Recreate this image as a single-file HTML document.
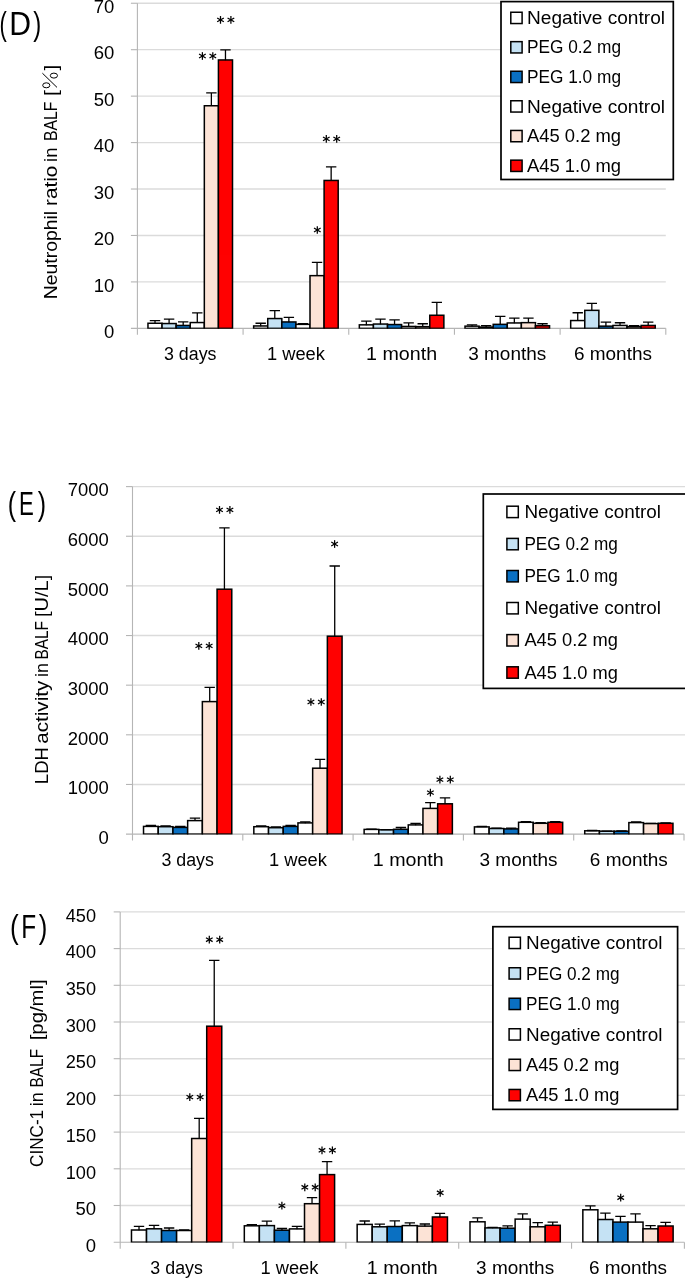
<!DOCTYPE html>
<html><head><meta charset="utf-8"><title>Figure D-F</title>
<style>
html,body{margin:0;padding:0;background:#fff;}
svg{display:block;font-family:"Liberation Sans",sans-serif;fill:#000;will-change:transform;opacity:0.999;}
</style></head><body>
<svg width="685" height="1278" viewBox="0 0 685 1278">
<rect width="685" height="1278" fill="#fff"/>
<line x1="137.4" y1="3.25" x2="665.8" y2="3.25" stroke="#DBDBDB" stroke-width="1.35"/>
<line x1="137.4" y1="49.69" x2="665.8" y2="49.69" stroke="#DBDBDB" stroke-width="1.35"/>
<line x1="137.4" y1="96.14" x2="665.8" y2="96.14" stroke="#DBDBDB" stroke-width="1.35"/>
<line x1="137.4" y1="142.58" x2="665.8" y2="142.58" stroke="#DBDBDB" stroke-width="1.35"/>
<line x1="137.4" y1="189.02" x2="665.8" y2="189.02" stroke="#DBDBDB" stroke-width="1.35"/>
<line x1="137.4" y1="235.46" x2="665.8" y2="235.46" stroke="#DBDBDB" stroke-width="1.35"/>
<line x1="137.4" y1="281.91" x2="665.8" y2="281.91" stroke="#DBDBDB" stroke-width="1.35"/>
<line x1="137.4" y1="3.25" x2="137.4" y2="334.85" stroke="#B5B5B5" stroke-width="1.1"/>
<line x1="130.9" y1="328.35" x2="665.8" y2="328.35" stroke="#B5B5B5" stroke-width="1.1"/>
<line x1="130.9" y1="3.25" x2="137.4" y2="3.25" stroke="#B5B5B5" stroke-width="1.1"/>
<line x1="130.9" y1="49.69" x2="137.4" y2="49.69" stroke="#B5B5B5" stroke-width="1.1"/>
<line x1="130.9" y1="96.14" x2="137.4" y2="96.14" stroke="#B5B5B5" stroke-width="1.1"/>
<line x1="130.9" y1="142.58" x2="137.4" y2="142.58" stroke="#B5B5B5" stroke-width="1.1"/>
<line x1="130.9" y1="189.02" x2="137.4" y2="189.02" stroke="#B5B5B5" stroke-width="1.1"/>
<line x1="130.9" y1="235.46" x2="137.4" y2="235.46" stroke="#B5B5B5" stroke-width="1.1"/>
<line x1="130.9" y1="281.91" x2="137.4" y2="281.91" stroke="#B5B5B5" stroke-width="1.1"/>
<line x1="243.08" y1="328.35" x2="243.08" y2="334.85" stroke="#B5B5B5" stroke-width="1.1"/>
<line x1="348.76" y1="328.35" x2="348.76" y2="334.85" stroke="#B5B5B5" stroke-width="1.1"/>
<line x1="454.44" y1="328.35" x2="454.44" y2="334.85" stroke="#B5B5B5" stroke-width="1.1"/>
<line x1="560.12" y1="328.35" x2="560.12" y2="334.85" stroke="#B5B5B5" stroke-width="1.1"/>
<line x1="665.80" y1="328.35" x2="665.80" y2="334.85" stroke="#B5B5B5" stroke-width="1.1"/>
<clipPath id="c328"><rect x="135.4" y="-5" width="538.4" height="333.65"/></clipPath>
<g clip-path="url(#c328)">
<rect x="147.97" y="323.25" width="14.09" height="5.10" fill="#FFFFFF" stroke="#000" stroke-width="1.5"/>
<rect x="162.06" y="323.55" width="14.09" height="4.80" fill="#C5E2F4" stroke="#000" stroke-width="1.5"/>
<rect x="176.15" y="325.45" width="14.09" height="2.90" fill="#0A70C2" stroke="#000" stroke-width="1.5"/>
<rect x="190.24" y="322.55" width="14.09" height="5.80" fill="#FFFFFF" stroke="#000" stroke-width="1.5"/>
<rect x="204.33" y="105.75" width="14.09" height="222.60" fill="#FCE3D6" stroke="#000" stroke-width="1.5"/>
<rect x="218.42" y="59.95" width="14.09" height="268.40" fill="#FF0000" stroke="#000" stroke-width="1.5"/>
<path d="M155.01 323.55V320.65M149.81 320.65H160.21" stroke="#000" stroke-width="1.3" fill="none"/>
<path d="M169.10 323.85V319.05M163.90 319.05H174.30" stroke="#000" stroke-width="1.3" fill="none"/>
<path d="M183.19 325.75V321.95M177.99 321.95H188.39" stroke="#000" stroke-width="1.3" fill="none"/>
<path d="M197.29 322.85V312.95M192.09 312.95H202.49" stroke="#000" stroke-width="1.3" fill="none"/>
<path d="M211.38 106.05V92.85M206.18 92.85H216.58" stroke="#000" stroke-width="1.3" fill="none"/>
<path d="M225.47 60.25V49.95M220.27 49.95H230.67" stroke="#000" stroke-width="1.3" fill="none"/>
<rect x="253.65" y="325.95" width="14.09" height="2.40" fill="#FFFFFF" stroke="#000" stroke-width="1.5"/>
<rect x="267.74" y="318.55" width="14.09" height="9.80" fill="#C5E2F4" stroke="#000" stroke-width="1.5"/>
<rect x="281.83" y="321.95" width="14.09" height="6.40" fill="#0A70C2" stroke="#000" stroke-width="1.5"/>
<rect x="295.92" y="324.35" width="14.09" height="4.00" fill="#FFFFFF" stroke="#000" stroke-width="1.5"/>
<rect x="310.01" y="275.65" width="14.09" height="52.70" fill="#FCE3D6" stroke="#000" stroke-width="1.5"/>
<rect x="324.10" y="180.45" width="14.09" height="147.90" fill="#FF0000" stroke="#000" stroke-width="1.5"/>
<path d="M260.69 326.25V323.25M255.49 323.25H265.89" stroke="#000" stroke-width="1.3" fill="none"/>
<path d="M274.78 318.85V310.65M269.58 310.65H279.98" stroke="#000" stroke-width="1.3" fill="none"/>
<path d="M288.87 322.25V317.35M283.67 317.35H294.07" stroke="#000" stroke-width="1.3" fill="none"/>
<path d="M302.97 324.65V323.65M297.77 323.65H308.17" stroke="#000" stroke-width="1.3" fill="none"/>
<path d="M317.06 275.95V262.45M311.86 262.45H322.26" stroke="#000" stroke-width="1.3" fill="none"/>
<path d="M331.15 180.75V166.95M325.95 166.95H336.35" stroke="#000" stroke-width="1.3" fill="none"/>
<rect x="359.33" y="324.85" width="14.09" height="3.50" fill="#FFFFFF" stroke="#000" stroke-width="1.5"/>
<rect x="373.42" y="324.05" width="14.09" height="4.30" fill="#C5E2F4" stroke="#000" stroke-width="1.5"/>
<rect x="387.51" y="324.55" width="14.09" height="3.80" fill="#0A70C2" stroke="#000" stroke-width="1.5"/>
<rect x="401.60" y="326.45" width="14.09" height="1.90" fill="#FFFFFF" stroke="#000" stroke-width="1.5"/>
<rect x="415.69" y="326.65" width="14.09" height="1.70" fill="#FCE3D6" stroke="#000" stroke-width="1.5"/>
<rect x="429.78" y="315.25" width="14.09" height="13.10" fill="#FF0000" stroke="#000" stroke-width="1.5"/>
<path d="M366.37 325.15V321.15M361.17 321.15H371.57" stroke="#000" stroke-width="1.3" fill="none"/>
<path d="M380.46 324.35V319.05M375.26 319.05H385.66" stroke="#000" stroke-width="1.3" fill="none"/>
<path d="M394.55 324.85V319.95M389.35 319.95H399.75" stroke="#000" stroke-width="1.3" fill="none"/>
<path d="M408.65 326.75V322.95M403.45 322.95H413.85" stroke="#000" stroke-width="1.3" fill="none"/>
<path d="M422.74 326.95V323.75M417.54 323.75H427.94" stroke="#000" stroke-width="1.3" fill="none"/>
<path d="M436.83 315.55V302.45M431.63 302.45H442.03" stroke="#000" stroke-width="1.3" fill="none"/>
<rect x="465.01" y="326.15" width="14.09" height="2.20" fill="#FFFFFF" stroke="#000" stroke-width="1.5"/>
<rect x="479.10" y="327.05" width="14.09" height="1.30" fill="#C5E2F4" stroke="#000" stroke-width="1.5"/>
<rect x="493.19" y="324.35" width="14.09" height="4.00" fill="#0A70C2" stroke="#000" stroke-width="1.5"/>
<rect x="507.28" y="322.95" width="14.09" height="5.40" fill="#FFFFFF" stroke="#000" stroke-width="1.5"/>
<rect x="521.37" y="322.65" width="14.09" height="5.70" fill="#FCE3D6" stroke="#000" stroke-width="1.5"/>
<rect x="535.46" y="325.75" width="14.09" height="2.60" fill="#FF0000" stroke="#000" stroke-width="1.5"/>
<path d="M472.05 326.45V324.85M466.85 324.85H477.25" stroke="#000" stroke-width="1.3" fill="none"/>
<path d="M486.14 327.35V325.55M480.94 325.55H491.34" stroke="#000" stroke-width="1.3" fill="none"/>
<path d="M500.23 324.65V316.45M495.03 316.45H505.43" stroke="#000" stroke-width="1.3" fill="none"/>
<path d="M514.33 323.25V318.05M509.13 318.05H519.53" stroke="#000" stroke-width="1.3" fill="none"/>
<path d="M528.42 322.95V318.15M523.22 318.15H533.62" stroke="#000" stroke-width="1.3" fill="none"/>
<path d="M542.51 326.05V323.75M537.31 323.75H547.71" stroke="#000" stroke-width="1.3" fill="none"/>
<rect x="570.69" y="320.55" width="14.09" height="7.80" fill="#FFFFFF" stroke="#000" stroke-width="1.5"/>
<rect x="584.78" y="310.35" width="14.09" height="18.00" fill="#C5E2F4" stroke="#000" stroke-width="1.5"/>
<rect x="598.87" y="326.15" width="14.09" height="2.20" fill="#0A70C2" stroke="#000" stroke-width="1.5"/>
<rect x="612.96" y="325.45" width="14.09" height="2.90" fill="#FFFFFF" stroke="#000" stroke-width="1.5"/>
<rect x="627.05" y="326.65" width="14.09" height="1.70" fill="#FCE3D6" stroke="#000" stroke-width="1.5"/>
<rect x="641.14" y="325.45" width="14.09" height="2.90" fill="#FF0000" stroke="#000" stroke-width="1.5"/>
<path d="M577.73 320.85V312.75M572.53 312.75H582.93" stroke="#000" stroke-width="1.3" fill="none"/>
<path d="M591.82 310.65V303.35M586.62 303.35H597.02" stroke="#000" stroke-width="1.3" fill="none"/>
<path d="M605.91 326.45V322.05M600.71 322.05H611.11" stroke="#000" stroke-width="1.3" fill="none"/>
<path d="M620.01 325.75V322.75M614.81 322.75H625.21" stroke="#000" stroke-width="1.3" fill="none"/>
<path d="M634.10 326.95V325.55M628.90 325.55H639.30" stroke="#000" stroke-width="1.3" fill="none"/>
<path d="M648.19 325.75V322.05M642.99 322.05H653.39" stroke="#000" stroke-width="1.3" fill="none"/>
</g>
<text x="114.3" y="12.95" font-size="17.6" text-anchor="end" textLength="20.6" lengthAdjust="spacingAndGlyphs">70</text>
<text x="114.3" y="59.39" font-size="17.6" text-anchor="end" textLength="20.6" lengthAdjust="spacingAndGlyphs">60</text>
<text x="114.3" y="105.84" font-size="17.6" text-anchor="end" textLength="20.6" lengthAdjust="spacingAndGlyphs">50</text>
<text x="114.3" y="152.28" font-size="17.6" text-anchor="end" textLength="20.6" lengthAdjust="spacingAndGlyphs">40</text>
<text x="114.3" y="198.72" font-size="17.6" text-anchor="end" textLength="20.6" lengthAdjust="spacingAndGlyphs">30</text>
<text x="114.3" y="245.16" font-size="17.6" text-anchor="end" textLength="20.6" lengthAdjust="spacingAndGlyphs">20</text>
<text x="114.3" y="291.61" font-size="17.6" text-anchor="end" textLength="20.6" lengthAdjust="spacingAndGlyphs">10</text>
<text x="114.3" y="338.05" font-size="17.6" text-anchor="end" textLength="10.3" lengthAdjust="spacingAndGlyphs">0</text>
<text x="190.24" y="359.8" font-size="17.6" text-anchor="middle" textLength="52.5" lengthAdjust="spacingAndGlyphs">3 days</text>
<text x="295.92" y="359.8" font-size="17.6" text-anchor="middle" textLength="58" lengthAdjust="spacingAndGlyphs">1 week</text>
<text x="401.60" y="359.8" font-size="17.6" text-anchor="middle" textLength="71" lengthAdjust="spacingAndGlyphs">1 month</text>
<text x="507.28" y="359.8" font-size="17.6" text-anchor="middle" textLength="78" lengthAdjust="spacingAndGlyphs">3 months</text>
<text x="612.96" y="359.8" font-size="17.6" text-anchor="middle" textLength="78" lengthAdjust="spacingAndGlyphs">6 months</text>
<g stroke="#000" stroke-width="1.25" stroke-linecap="butt"><line x1="220.50" y1="16.05" x2="220.50" y2="23.75"/><line x1="217.17" y1="17.97" x2="223.83" y2="21.82"/><line x1="223.83" y1="17.97" x2="217.17" y2="21.82"/></g><g stroke="#000" stroke-width="1.25" stroke-linecap="butt"><line x1="230.90" y1="16.05" x2="230.90" y2="23.75"/><line x1="227.57" y1="17.97" x2="234.23" y2="21.82"/><line x1="234.23" y1="17.97" x2="227.57" y2="21.82"/></g>
<g stroke="#000" stroke-width="1.25" stroke-linecap="butt"><line x1="202.40" y1="52.15" x2="202.40" y2="59.85"/><line x1="199.07" y1="54.08" x2="205.73" y2="57.92"/><line x1="205.73" y1="54.08" x2="199.07" y2="57.92"/></g><g stroke="#000" stroke-width="1.25" stroke-linecap="butt"><line x1="212.80" y1="52.15" x2="212.80" y2="59.85"/><line x1="209.47" y1="54.08" x2="216.13" y2="57.92"/><line x1="216.13" y1="54.08" x2="209.47" y2="57.92"/></g>
<g stroke="#000" stroke-width="1.25" stroke-linecap="butt"><line x1="317.30" y1="226.15" x2="317.30" y2="233.85"/><line x1="313.97" y1="228.07" x2="320.63" y2="231.93"/><line x1="320.63" y1="228.07" x2="313.97" y2="231.93"/></g>
<g stroke="#000" stroke-width="1.25" stroke-linecap="butt"><line x1="326.30" y1="135.05" x2="326.30" y2="142.75"/><line x1="322.97" y1="136.97" x2="329.63" y2="140.83"/><line x1="329.63" y1="136.97" x2="322.97" y2="140.83"/></g><g stroke="#000" stroke-width="1.25" stroke-linecap="butt"><line x1="336.70" y1="135.05" x2="336.70" y2="142.75"/><line x1="333.37" y1="136.97" x2="340.03" y2="140.83"/><line x1="340.03" y1="136.97" x2="333.37" y2="140.83"/></g>
<rect x="501" y="1.6" width="172.3" height="177.9" fill="#fff" stroke="#000" stroke-width="1.7"/>
<rect x="510.8" y="12.25" width="11.3" height="11.3" fill="#FFFFFF" stroke="#000" stroke-width="1.5"/>
<text x="527" y="24.00" font-size="17.6" text-anchor="start" textLength="138" lengthAdjust="spacingAndGlyphs">Negative control</text>
<rect x="510.8" y="41.65" width="11.3" height="11.3" fill="#C5E2F4" stroke="#000" stroke-width="1.5"/>
<text x="527" y="53.40" font-size="17.6" text-anchor="start" textLength="94" lengthAdjust="spacingAndGlyphs">PEG 0.2 mg</text>
<rect x="510.8" y="71.25" width="11.3" height="11.3" fill="#0A70C2" stroke="#000" stroke-width="1.5"/>
<text x="527" y="83.00" font-size="17.6" text-anchor="start" textLength="94" lengthAdjust="spacingAndGlyphs">PEG 1.0 mg</text>
<rect x="510.8" y="100.75" width="11.3" height="11.3" fill="#FFFFFF" stroke="#000" stroke-width="1.5"/>
<text x="527" y="112.50" font-size="17.6" text-anchor="start" textLength="138" lengthAdjust="spacingAndGlyphs">Negative control</text>
<rect x="510.8" y="130.45" width="11.3" height="11.3" fill="#FCE3D6" stroke="#000" stroke-width="1.5"/>
<text x="527" y="142.20" font-size="17.6" text-anchor="start" textLength="94" lengthAdjust="spacingAndGlyphs">A45 0.2 mg</text>
<rect x="510.8" y="160.15" width="11.3" height="11.3" fill="#FF0000" stroke="#000" stroke-width="1.5"/>
<text x="527" y="171.90" font-size="17.6" text-anchor="start" textLength="94" lengthAdjust="spacingAndGlyphs">A45 1.0 mg</text>
<g transform="translate(57.0 0) rotate(-90)" font-size="17.8" text-anchor="middle">
<text x="-255.05" y="0" textLength="88.40" lengthAdjust="spacingAndGlyphs">Neutrophil</text>
<text x="-185.80" y="0" textLength="40.30" lengthAdjust="spacingAndGlyphs">ratio</text>
<text x="-154.75" y="0" textLength="14.40" lengthAdjust="spacingAndGlyphs">in</text>
<text x="-121.30" y="0" textLength="39.50" lengthAdjust="spacingAndGlyphs">BALF</text>
<text x="-92.95" y="0" textLength="5.90" lengthAdjust="spacingAndGlyphs">[</text>
<text x="-67.60" y="0" textLength="5.60" lengthAdjust="spacingAndGlyphs">]</text>
</g>
<g fill="none" stroke="#000" stroke-width="1.0"><ellipse cx="46.3" cy="85.3" rx="3.6" ry="2.5"/><ellipse cx="53.9" cy="75.6" rx="3.6" ry="2.5"/><line x1="42.4" y1="73.2" x2="57.0" y2="87.4"/></g>
<text x="3.10" y="34.6" font-size="32.5" text-anchor="middle" textLength="7.30" lengthAdjust="spacingAndGlyphs">(</text>
<text x="20.25" y="34.6" font-size="32.5" text-anchor="middle" textLength="21.80" lengthAdjust="spacingAndGlyphs">D</text>
<text x="37.35" y="34.6" font-size="32.5" text-anchor="middle" textLength="8.00" lengthAdjust="spacingAndGlyphs">)</text>
<line x1="132.5" y1="486.60" x2="685" y2="486.60" stroke="#DBDBDB" stroke-width="1.35"/>
<line x1="132.5" y1="536.24" x2="685" y2="536.24" stroke="#DBDBDB" stroke-width="1.35"/>
<line x1="132.5" y1="585.89" x2="685" y2="585.89" stroke="#DBDBDB" stroke-width="1.35"/>
<line x1="132.5" y1="635.53" x2="685" y2="635.53" stroke="#DBDBDB" stroke-width="1.35"/>
<line x1="132.5" y1="685.17" x2="685" y2="685.17" stroke="#DBDBDB" stroke-width="1.35"/>
<line x1="132.5" y1="734.81" x2="685" y2="734.81" stroke="#DBDBDB" stroke-width="1.35"/>
<line x1="132.5" y1="784.46" x2="685" y2="784.46" stroke="#DBDBDB" stroke-width="1.35"/>
<line x1="132.5" y1="486.6" x2="132.5" y2="840.6" stroke="#B5B5B5" stroke-width="1.1"/>
<line x1="126.0" y1="834.1" x2="684" y2="834.1" stroke="#B5B5B5" stroke-width="1.1"/>
<line x1="126.0" y1="486.60" x2="132.5" y2="486.60" stroke="#B5B5B5" stroke-width="1.1"/>
<line x1="126.0" y1="536.24" x2="132.5" y2="536.24" stroke="#B5B5B5" stroke-width="1.1"/>
<line x1="126.0" y1="585.89" x2="132.5" y2="585.89" stroke="#B5B5B5" stroke-width="1.1"/>
<line x1="126.0" y1="635.53" x2="132.5" y2="635.53" stroke="#B5B5B5" stroke-width="1.1"/>
<line x1="126.0" y1="685.17" x2="132.5" y2="685.17" stroke="#B5B5B5" stroke-width="1.1"/>
<line x1="126.0" y1="734.81" x2="132.5" y2="734.81" stroke="#B5B5B5" stroke-width="1.1"/>
<line x1="126.0" y1="784.46" x2="132.5" y2="784.46" stroke="#B5B5B5" stroke-width="1.1"/>
<line x1="242.80" y1="834.1" x2="242.80" y2="840.6" stroke="#B5B5B5" stroke-width="1.1"/>
<line x1="353.10" y1="834.1" x2="353.10" y2="840.6" stroke="#B5B5B5" stroke-width="1.1"/>
<line x1="463.40" y1="834.1" x2="463.40" y2="840.6" stroke="#B5B5B5" stroke-width="1.1"/>
<line x1="573.70" y1="834.1" x2="573.70" y2="840.6" stroke="#B5B5B5" stroke-width="1.1"/>
<line x1="684.00" y1="834.1" x2="684.00" y2="840.6" stroke="#B5B5B5" stroke-width="1.1"/>
<clipPath id="c834"><rect x="130.5" y="-5" width="561.5" height="839.40"/></clipPath>
<g clip-path="url(#c834)">
<rect x="143.53" y="826.40" width="14.71" height="7.70" fill="#FFFFFF" stroke="#000" stroke-width="1.5"/>
<rect x="158.24" y="826.70" width="14.71" height="7.40" fill="#C5E2F4" stroke="#000" stroke-width="1.5"/>
<rect x="172.94" y="827.40" width="14.71" height="6.70" fill="#0A70C2" stroke="#000" stroke-width="1.5"/>
<rect x="187.65" y="820.60" width="14.71" height="13.50" fill="#FFFFFF" stroke="#000" stroke-width="1.5"/>
<rect x="202.36" y="701.60" width="14.71" height="132.50" fill="#FCE3D6" stroke="#000" stroke-width="1.5"/>
<rect x="217.06" y="589.20" width="14.71" height="244.90" fill="#FF0000" stroke="#000" stroke-width="1.5"/>
<path d="M150.88 826.70V825.40M145.68 825.40H156.08" stroke="#000" stroke-width="1.3" fill="none"/>
<path d="M165.59 827.00V825.80M160.39 825.80H170.79" stroke="#000" stroke-width="1.3" fill="none"/>
<path d="M180.30 827.70V826.40M175.10 826.40H185.50" stroke="#000" stroke-width="1.3" fill="none"/>
<path d="M195.00 820.90V818.10M189.80 818.10H200.20" stroke="#000" stroke-width="1.3" fill="none"/>
<path d="M209.71 701.90V687.30M204.51 687.30H214.91" stroke="#000" stroke-width="1.3" fill="none"/>
<path d="M224.42 589.50V527.80M219.22 527.80H229.62" stroke="#000" stroke-width="1.3" fill="none"/>
<rect x="253.83" y="826.70" width="14.71" height="7.40" fill="#FFFFFF" stroke="#000" stroke-width="1.5"/>
<rect x="268.54" y="827.70" width="14.71" height="6.40" fill="#C5E2F4" stroke="#000" stroke-width="1.5"/>
<rect x="283.24" y="826.40" width="14.71" height="7.70" fill="#0A70C2" stroke="#000" stroke-width="1.5"/>
<rect x="297.95" y="822.90" width="14.71" height="11.20" fill="#FFFFFF" stroke="#000" stroke-width="1.5"/>
<rect x="312.66" y="768.20" width="14.71" height="65.90" fill="#FCE3D6" stroke="#000" stroke-width="1.5"/>
<rect x="327.36" y="636.20" width="14.71" height="197.90" fill="#FF0000" stroke="#000" stroke-width="1.5"/>
<path d="M261.18 827.00V825.80M255.98 825.80H266.38" stroke="#000" stroke-width="1.3" fill="none"/>
<path d="M275.89 828.00V827.00M270.69 827.00H281.09" stroke="#000" stroke-width="1.3" fill="none"/>
<path d="M290.60 826.70V825.40M285.40 825.40H295.80" stroke="#000" stroke-width="1.3" fill="none"/>
<path d="M305.30 823.20V821.90M300.10 821.90H310.50" stroke="#000" stroke-width="1.3" fill="none"/>
<path d="M320.01 768.50V759.30M314.81 759.30H325.21" stroke="#000" stroke-width="1.3" fill="none"/>
<path d="M334.72 636.50V566.00M329.52 566.00H339.92" stroke="#000" stroke-width="1.3" fill="none"/>
<rect x="364.13" y="829.40" width="14.71" height="4.70" fill="#FFFFFF" stroke="#000" stroke-width="1.5"/>
<rect x="378.84" y="829.80" width="14.71" height="4.30" fill="#C5E2F4" stroke="#000" stroke-width="1.5"/>
<rect x="393.54" y="829.30" width="14.71" height="4.80" fill="#0A70C2" stroke="#000" stroke-width="1.5"/>
<rect x="408.25" y="824.90" width="14.71" height="9.20" fill="#FFFFFF" stroke="#000" stroke-width="1.5"/>
<rect x="422.96" y="808.40" width="14.71" height="25.70" fill="#FCE3D6" stroke="#000" stroke-width="1.5"/>
<rect x="437.66" y="803.80" width="14.71" height="30.30" fill="#FF0000" stroke="#000" stroke-width="1.5"/>
<path d="M371.48 829.70V829.20M366.28 829.20H376.68" stroke="#000" stroke-width="1.3" fill="none"/>
<path d="M386.19 830.10V829.60M380.99 829.60H391.39" stroke="#000" stroke-width="1.3" fill="none"/>
<path d="M400.90 829.60V827.50M395.70 827.50H406.10" stroke="#000" stroke-width="1.3" fill="none"/>
<path d="M415.60 825.20V823.40M410.40 823.40H420.80" stroke="#000" stroke-width="1.3" fill="none"/>
<path d="M430.31 808.70V802.70M425.11 802.70H435.51" stroke="#000" stroke-width="1.3" fill="none"/>
<path d="M445.02 804.10V797.80M439.82 797.80H450.22" stroke="#000" stroke-width="1.3" fill="none"/>
<rect x="474.43" y="826.90" width="14.71" height="7.20" fill="#FFFFFF" stroke="#000" stroke-width="1.5"/>
<rect x="489.14" y="828.50" width="14.71" height="5.60" fill="#C5E2F4" stroke="#000" stroke-width="1.5"/>
<rect x="503.84" y="828.90" width="14.71" height="5.20" fill="#0A70C2" stroke="#000" stroke-width="1.5"/>
<rect x="518.55" y="822.30" width="14.71" height="11.80" fill="#FFFFFF" stroke="#000" stroke-width="1.5"/>
<rect x="533.26" y="823.30" width="14.71" height="10.80" fill="#FCE3D6" stroke="#000" stroke-width="1.5"/>
<rect x="547.96" y="822.30" width="14.71" height="11.80" fill="#FF0000" stroke="#000" stroke-width="1.5"/>
<path d="M481.78 827.20V826.50M476.58 826.50H486.98" stroke="#000" stroke-width="1.3" fill="none"/>
<path d="M496.49 828.80V828.20M491.29 828.20H501.69" stroke="#000" stroke-width="1.3" fill="none"/>
<path d="M511.20 829.20V828.20M506.00 828.20H516.40" stroke="#000" stroke-width="1.3" fill="none"/>
<path d="M525.90 822.60V821.60M520.70 821.60H531.10" stroke="#000" stroke-width="1.3" fill="none"/>
<path d="M540.61 823.60V822.60M535.41 822.60H545.81" stroke="#000" stroke-width="1.3" fill="none"/>
<path d="M555.32 822.60V821.60M550.12 821.60H560.52" stroke="#000" stroke-width="1.3" fill="none"/>
<rect x="584.73" y="830.80" width="14.71" height="3.30" fill="#FFFFFF" stroke="#000" stroke-width="1.5"/>
<rect x="599.44" y="831.20" width="14.71" height="2.90" fill="#C5E2F4" stroke="#000" stroke-width="1.5"/>
<rect x="614.14" y="831.20" width="14.71" height="2.90" fill="#0A70C2" stroke="#000" stroke-width="1.5"/>
<rect x="628.85" y="822.60" width="14.71" height="11.50" fill="#FFFFFF" stroke="#000" stroke-width="1.5"/>
<rect x="643.56" y="823.60" width="14.71" height="10.50" fill="#FCE3D6" stroke="#000" stroke-width="1.5"/>
<rect x="658.26" y="823.30" width="14.71" height="10.80" fill="#FF0000" stroke="#000" stroke-width="1.5"/>
<path d="M592.08 831.10V830.50M586.88 830.50H597.28" stroke="#000" stroke-width="1.3" fill="none"/>
<path d="M606.79 831.50V831.10M601.59 831.10H611.99" stroke="#000" stroke-width="1.3" fill="none"/>
<path d="M621.50 831.50V830.80M616.30 830.80H626.70" stroke="#000" stroke-width="1.3" fill="none"/>
<path d="M636.20 822.90V821.90M631.00 821.90H641.40" stroke="#000" stroke-width="1.3" fill="none"/>
<path d="M650.91 823.90V823.30M645.71 823.30H656.11" stroke="#000" stroke-width="1.3" fill="none"/>
<path d="M665.62 823.60V822.90M660.42 822.90H670.82" stroke="#000" stroke-width="1.3" fill="none"/>
</g>
<text x="108.8" y="496.30" font-size="17.6" text-anchor="end" textLength="41" lengthAdjust="spacingAndGlyphs">7000</text>
<text x="108.8" y="545.94" font-size="17.6" text-anchor="end" textLength="41" lengthAdjust="spacingAndGlyphs">6000</text>
<text x="108.8" y="595.59" font-size="17.6" text-anchor="end" textLength="41" lengthAdjust="spacingAndGlyphs">5000</text>
<text x="108.8" y="645.23" font-size="17.6" text-anchor="end" textLength="41" lengthAdjust="spacingAndGlyphs">4000</text>
<text x="108.8" y="694.87" font-size="17.6" text-anchor="end" textLength="41" lengthAdjust="spacingAndGlyphs">3000</text>
<text x="108.8" y="744.51" font-size="17.6" text-anchor="end" textLength="41" lengthAdjust="spacingAndGlyphs">2000</text>
<text x="108.8" y="794.16" font-size="17.6" text-anchor="end" textLength="41" lengthAdjust="spacingAndGlyphs">1000</text>
<text x="108.8" y="843.80" font-size="17.6" text-anchor="end" textLength="10.3" lengthAdjust="spacingAndGlyphs">0</text>
<text x="187.65" y="865.6" font-size="17.6" text-anchor="middle" textLength="52.5" lengthAdjust="spacingAndGlyphs">3 days</text>
<text x="297.95" y="865.6" font-size="17.6" text-anchor="middle" textLength="58" lengthAdjust="spacingAndGlyphs">1 week</text>
<text x="408.25" y="865.6" font-size="17.6" text-anchor="middle" textLength="71" lengthAdjust="spacingAndGlyphs">1 month</text>
<text x="518.55" y="865.6" font-size="17.6" text-anchor="middle" textLength="78" lengthAdjust="spacingAndGlyphs">3 months</text>
<text x="628.85" y="865.6" font-size="17.6" text-anchor="middle" textLength="78" lengthAdjust="spacingAndGlyphs">6 months</text>
<g stroke="#000" stroke-width="1.25" stroke-linecap="butt"><line x1="219.50" y1="506.05" x2="219.50" y2="513.75"/><line x1="216.17" y1="507.97" x2="222.83" y2="511.82"/><line x1="222.83" y1="507.97" x2="216.17" y2="511.82"/></g><g stroke="#000" stroke-width="1.25" stroke-linecap="butt"><line x1="229.90" y1="506.05" x2="229.90" y2="513.75"/><line x1="226.57" y1="507.97" x2="233.23" y2="511.82"/><line x1="233.23" y1="507.97" x2="226.57" y2="511.82"/></g>
<g stroke="#000" stroke-width="1.25" stroke-linecap="butt"><line x1="198.80" y1="642.05" x2="198.80" y2="649.75"/><line x1="195.47" y1="643.98" x2="202.13" y2="647.82"/><line x1="202.13" y1="643.98" x2="195.47" y2="647.82"/></g><g stroke="#000" stroke-width="1.25" stroke-linecap="butt"><line x1="209.20" y1="642.05" x2="209.20" y2="649.75"/><line x1="205.87" y1="643.98" x2="212.53" y2="647.82"/><line x1="212.53" y1="643.98" x2="205.87" y2="647.82"/></g>
<g stroke="#000" stroke-width="1.25" stroke-linecap="butt"><line x1="334.60" y1="540.15" x2="334.60" y2="547.85"/><line x1="331.27" y1="542.08" x2="337.93" y2="545.92"/><line x1="337.93" y1="542.08" x2="331.27" y2="545.92"/></g>
<g stroke="#000" stroke-width="1.25" stroke-linecap="butt"><line x1="310.90" y1="698.15" x2="310.90" y2="705.85"/><line x1="307.57" y1="700.08" x2="314.23" y2="703.92"/><line x1="314.23" y1="700.08" x2="307.57" y2="703.92"/></g><g stroke="#000" stroke-width="1.25" stroke-linecap="butt"><line x1="321.30" y1="698.15" x2="321.30" y2="705.85"/><line x1="317.97" y1="700.08" x2="324.63" y2="703.92"/><line x1="324.63" y1="700.08" x2="317.97" y2="703.92"/></g>
<g stroke="#000" stroke-width="1.25" stroke-linecap="butt"><line x1="430.40" y1="788.75" x2="430.40" y2="796.45"/><line x1="427.07" y1="790.68" x2="433.73" y2="794.52"/><line x1="433.73" y1="790.68" x2="427.07" y2="794.52"/></g>
<g stroke="#000" stroke-width="1.25" stroke-linecap="butt"><line x1="439.90" y1="775.75" x2="439.90" y2="783.45"/><line x1="436.57" y1="777.68" x2="443.23" y2="781.52"/><line x1="443.23" y1="777.68" x2="436.57" y2="781.52"/></g><g stroke="#000" stroke-width="1.25" stroke-linecap="butt"><line x1="450.30" y1="775.75" x2="450.30" y2="783.45"/><line x1="446.97" y1="777.68" x2="453.63" y2="781.52"/><line x1="453.63" y1="777.68" x2="446.97" y2="781.52"/></g>
<rect x="483.3" y="494" width="210" height="194.4" fill="#fff" stroke="#000" stroke-width="1.7"/>
<rect x="506.9" y="506.20" width="11.4" height="11.4" fill="#FFFFFF" stroke="#000" stroke-width="1.5"/>
<text x="524.4" y="518.00" font-size="17.6" text-anchor="start" textLength="136.5" lengthAdjust="spacingAndGlyphs">Negative control</text>
<rect x="506.9" y="538.40" width="11.4" height="11.4" fill="#C5E2F4" stroke="#000" stroke-width="1.5"/>
<text x="524.4" y="550.20" font-size="17.6" text-anchor="start" textLength="93.5" lengthAdjust="spacingAndGlyphs">PEG 0.2 mg</text>
<rect x="506.9" y="570.50" width="11.4" height="11.4" fill="#0A70C2" stroke="#000" stroke-width="1.5"/>
<text x="524.4" y="582.30" font-size="17.6" text-anchor="start" textLength="93.5" lengthAdjust="spacingAndGlyphs">PEG 1.0 mg</text>
<rect x="506.9" y="602.50" width="11.4" height="11.4" fill="#FFFFFF" stroke="#000" stroke-width="1.5"/>
<text x="524.4" y="614.30" font-size="17.6" text-anchor="start" textLength="136.5" lengthAdjust="spacingAndGlyphs">Negative control</text>
<rect x="506.9" y="634.60" width="11.4" height="11.4" fill="#FCE3D6" stroke="#000" stroke-width="1.5"/>
<text x="524.4" y="646.40" font-size="17.6" text-anchor="start" textLength="93.5" lengthAdjust="spacingAndGlyphs">A45 0.2 mg</text>
<rect x="506.9" y="666.80" width="11.4" height="11.4" fill="#FF0000" stroke="#000" stroke-width="1.5"/>
<text x="524.4" y="678.60" font-size="17.6" text-anchor="start" textLength="93.5" lengthAdjust="spacingAndGlyphs">A45 1.0 mg</text>
<g transform="translate(47.9 0) rotate(-90)" font-size="17.8" text-anchor="middle">
<text x="-765.65" y="0" textLength="37.00" lengthAdjust="spacingAndGlyphs">LDH</text>
<text x="-712.25" y="0" textLength="63.10" lengthAdjust="spacingAndGlyphs">activity</text>
<text x="-670.00" y="0" textLength="13.90" lengthAdjust="spacingAndGlyphs">in</text>
<text x="-640.25" y="0" textLength="38.60" lengthAdjust="spacingAndGlyphs">BALF</text>
<text x="-595.85" y="0" textLength="42.20" lengthAdjust="spacingAndGlyphs">[U/L]</text>
</g>
<text x="11.80" y="514.5" font-size="32.5" text-anchor="middle" textLength="8.30" lengthAdjust="spacingAndGlyphs">(</text>
<text x="26.45" y="514.5" font-size="32.5" text-anchor="middle" textLength="14.80" lengthAdjust="spacingAndGlyphs">E</text>
<text x="41.90" y="514.5" font-size="32.5" text-anchor="middle" textLength="8.30" lengthAdjust="spacingAndGlyphs">)</text>
<line x1="120.2" y1="911.90" x2="685" y2="911.90" stroke="#DBDBDB" stroke-width="1.35"/>
<line x1="120.2" y1="948.60" x2="685" y2="948.60" stroke="#DBDBDB" stroke-width="1.35"/>
<line x1="120.2" y1="985.30" x2="685" y2="985.30" stroke="#DBDBDB" stroke-width="1.35"/>
<line x1="120.2" y1="1022.00" x2="685" y2="1022.00" stroke="#DBDBDB" stroke-width="1.35"/>
<line x1="120.2" y1="1058.70" x2="685" y2="1058.70" stroke="#DBDBDB" stroke-width="1.35"/>
<line x1="120.2" y1="1095.40" x2="685" y2="1095.40" stroke="#DBDBDB" stroke-width="1.35"/>
<line x1="120.2" y1="1132.10" x2="685" y2="1132.10" stroke="#DBDBDB" stroke-width="1.35"/>
<line x1="120.2" y1="1168.80" x2="685" y2="1168.80" stroke="#DBDBDB" stroke-width="1.35"/>
<line x1="120.2" y1="1205.50" x2="685" y2="1205.50" stroke="#DBDBDB" stroke-width="1.35"/>
<line x1="120.2" y1="911.9" x2="120.2" y2="1248.7" stroke="#B5B5B5" stroke-width="1.1"/>
<line x1="113.7" y1="1242.2" x2="684.4" y2="1242.2" stroke="#B5B5B5" stroke-width="1.1"/>
<line x1="113.7" y1="911.90" x2="120.2" y2="911.90" stroke="#B5B5B5" stroke-width="1.1"/>
<line x1="113.7" y1="948.60" x2="120.2" y2="948.60" stroke="#B5B5B5" stroke-width="1.1"/>
<line x1="113.7" y1="985.30" x2="120.2" y2="985.30" stroke="#B5B5B5" stroke-width="1.1"/>
<line x1="113.7" y1="1022.00" x2="120.2" y2="1022.00" stroke="#B5B5B5" stroke-width="1.1"/>
<line x1="113.7" y1="1058.70" x2="120.2" y2="1058.70" stroke="#B5B5B5" stroke-width="1.1"/>
<line x1="113.7" y1="1095.40" x2="120.2" y2="1095.40" stroke="#B5B5B5" stroke-width="1.1"/>
<line x1="113.7" y1="1132.10" x2="120.2" y2="1132.10" stroke="#B5B5B5" stroke-width="1.1"/>
<line x1="113.7" y1="1168.80" x2="120.2" y2="1168.80" stroke="#B5B5B5" stroke-width="1.1"/>
<line x1="113.7" y1="1205.50" x2="120.2" y2="1205.50" stroke="#B5B5B5" stroke-width="1.1"/>
<line x1="233.04" y1="1242.2" x2="233.04" y2="1248.7" stroke="#B5B5B5" stroke-width="1.1"/>
<line x1="345.88" y1="1242.2" x2="345.88" y2="1248.7" stroke="#B5B5B5" stroke-width="1.1"/>
<line x1="458.72" y1="1242.2" x2="458.72" y2="1248.7" stroke="#B5B5B5" stroke-width="1.1"/>
<line x1="571.56" y1="1242.2" x2="571.56" y2="1248.7" stroke="#B5B5B5" stroke-width="1.1"/>
<line x1="684.40" y1="1242.2" x2="684.40" y2="1248.7" stroke="#B5B5B5" stroke-width="1.1"/>
<clipPath id="c1242"><rect x="118.2" y="-5" width="574.1999999999999" height="1247.50"/></clipPath>
<g clip-path="url(#c1242)">
<rect x="131.48" y="1230.00" width="15.05" height="12.20" fill="#FFFFFF" stroke="#000" stroke-width="1.5"/>
<rect x="146.53" y="1228.80" width="15.05" height="13.40" fill="#C5E2F4" stroke="#000" stroke-width="1.5"/>
<rect x="161.57" y="1230.50" width="15.05" height="11.70" fill="#0A70C2" stroke="#000" stroke-width="1.5"/>
<rect x="176.62" y="1230.50" width="15.05" height="11.70" fill="#FFFFFF" stroke="#000" stroke-width="1.5"/>
<rect x="191.67" y="1138.50" width="15.05" height="103.70" fill="#FCE3D6" stroke="#000" stroke-width="1.5"/>
<rect x="206.71" y="1026.20" width="15.05" height="216.00" fill="#FF0000" stroke="#000" stroke-width="1.5"/>
<path d="M139.01 1230.30V1226.30M133.81 1226.30H144.21" stroke="#000" stroke-width="1.3" fill="none"/>
<path d="M154.05 1229.10V1225.40M148.85 1225.40H159.25" stroke="#000" stroke-width="1.3" fill="none"/>
<path d="M169.10 1230.80V1228.00M163.90 1228.00H174.30" stroke="#000" stroke-width="1.3" fill="none"/>
<path d="M184.14 1230.80V1229.90M178.94 1229.90H189.34" stroke="#000" stroke-width="1.3" fill="none"/>
<path d="M199.19 1138.80V1118.30M193.99 1118.30H204.39" stroke="#000" stroke-width="1.3" fill="none"/>
<path d="M214.23 1026.50V960.40M209.03 960.40H219.43" stroke="#000" stroke-width="1.3" fill="none"/>
<rect x="244.32" y="1225.80" width="15.05" height="16.40" fill="#FFFFFF" stroke="#000" stroke-width="1.5"/>
<rect x="259.37" y="1225.60" width="15.05" height="16.60" fill="#C5E2F4" stroke="#000" stroke-width="1.5"/>
<rect x="274.41" y="1230.20" width="15.05" height="12.00" fill="#0A70C2" stroke="#000" stroke-width="1.5"/>
<rect x="289.46" y="1228.90" width="15.05" height="13.30" fill="#FFFFFF" stroke="#000" stroke-width="1.5"/>
<rect x="304.51" y="1203.70" width="15.05" height="38.50" fill="#FCE3D6" stroke="#000" stroke-width="1.5"/>
<rect x="319.55" y="1174.60" width="15.05" height="67.60" fill="#FF0000" stroke="#000" stroke-width="1.5"/>
<path d="M251.85 1226.10V1224.70M246.65 1224.70H257.05" stroke="#000" stroke-width="1.3" fill="none"/>
<path d="M266.89 1225.90V1221.20M261.69 1221.20H272.09" stroke="#000" stroke-width="1.3" fill="none"/>
<path d="M281.94 1230.50V1228.50M276.74 1228.50H287.14" stroke="#000" stroke-width="1.3" fill="none"/>
<path d="M296.98 1229.20V1226.40M291.78 1226.40H302.18" stroke="#000" stroke-width="1.3" fill="none"/>
<path d="M312.03 1204.00V1197.70M306.83 1197.70H317.23" stroke="#000" stroke-width="1.3" fill="none"/>
<path d="M327.07 1174.90V1161.60M321.87 1161.60H332.27" stroke="#000" stroke-width="1.3" fill="none"/>
<rect x="357.16" y="1224.40" width="15.05" height="17.80" fill="#FFFFFF" stroke="#000" stroke-width="1.5"/>
<rect x="372.21" y="1226.80" width="15.05" height="15.40" fill="#C5E2F4" stroke="#000" stroke-width="1.5"/>
<rect x="387.25" y="1226.50" width="15.05" height="15.70" fill="#0A70C2" stroke="#000" stroke-width="1.5"/>
<rect x="402.30" y="1225.60" width="15.05" height="16.60" fill="#FFFFFF" stroke="#000" stroke-width="1.5"/>
<rect x="417.35" y="1226.10" width="15.05" height="16.10" fill="#FCE3D6" stroke="#000" stroke-width="1.5"/>
<rect x="432.39" y="1217.00" width="15.05" height="25.20" fill="#FF0000" stroke="#000" stroke-width="1.5"/>
<path d="M364.69 1224.70V1221.00M359.49 1221.00H369.89" stroke="#000" stroke-width="1.3" fill="none"/>
<path d="M379.73 1227.10V1224.20M374.53 1224.20H384.93" stroke="#000" stroke-width="1.3" fill="none"/>
<path d="M394.78 1226.80V1220.80M389.58 1220.80H399.98" stroke="#000" stroke-width="1.3" fill="none"/>
<path d="M409.82 1225.90V1222.80M404.62 1222.80H415.02" stroke="#000" stroke-width="1.3" fill="none"/>
<path d="M424.87 1226.40V1224.00M419.67 1224.00H430.07" stroke="#000" stroke-width="1.3" fill="none"/>
<path d="M439.91 1217.30V1213.30M434.71 1213.30H445.11" stroke="#000" stroke-width="1.3" fill="none"/>
<rect x="470.00" y="1221.80" width="15.05" height="20.40" fill="#FFFFFF" stroke="#000" stroke-width="1.5"/>
<rect x="485.05" y="1227.90" width="15.05" height="14.30" fill="#C5E2F4" stroke="#000" stroke-width="1.5"/>
<rect x="500.09" y="1228.20" width="15.05" height="14.00" fill="#0A70C2" stroke="#000" stroke-width="1.5"/>
<rect x="515.14" y="1219.10" width="15.05" height="23.10" fill="#FFFFFF" stroke="#000" stroke-width="1.5"/>
<rect x="530.19" y="1226.80" width="15.05" height="15.40" fill="#FCE3D6" stroke="#000" stroke-width="1.5"/>
<rect x="545.23" y="1225.30" width="15.05" height="16.90" fill="#FF0000" stroke="#000" stroke-width="1.5"/>
<path d="M477.53 1222.10V1217.80M472.33 1217.80H482.73" stroke="#000" stroke-width="1.3" fill="none"/>
<path d="M492.57 1228.20V1227.30M487.37 1227.30H497.77" stroke="#000" stroke-width="1.3" fill="none"/>
<path d="M507.62 1228.50V1225.90M502.42 1225.90H512.82" stroke="#000" stroke-width="1.3" fill="none"/>
<path d="M522.66 1219.40V1213.80M517.46 1213.80H527.86" stroke="#000" stroke-width="1.3" fill="none"/>
<path d="M537.71 1227.10V1222.60M532.51 1222.60H542.91" stroke="#000" stroke-width="1.3" fill="none"/>
<path d="M552.75 1225.60V1222.10M547.55 1222.10H557.95" stroke="#000" stroke-width="1.3" fill="none"/>
<rect x="582.84" y="1209.80" width="15.05" height="32.40" fill="#FFFFFF" stroke="#000" stroke-width="1.5"/>
<rect x="597.89" y="1219.50" width="15.05" height="22.70" fill="#C5E2F4" stroke="#000" stroke-width="1.5"/>
<rect x="612.93" y="1222.10" width="15.05" height="20.10" fill="#0A70C2" stroke="#000" stroke-width="1.5"/>
<rect x="627.98" y="1222.10" width="15.05" height="20.10" fill="#FFFFFF" stroke="#000" stroke-width="1.5"/>
<rect x="643.03" y="1228.80" width="15.05" height="13.40" fill="#FCE3D6" stroke="#000" stroke-width="1.5"/>
<rect x="658.07" y="1226.00" width="15.05" height="16.20" fill="#FF0000" stroke="#000" stroke-width="1.5"/>
<path d="M590.37 1210.10V1205.80M585.17 1205.80H595.57" stroke="#000" stroke-width="1.3" fill="none"/>
<path d="M605.41 1219.80V1213.10M600.21 1213.10H610.61" stroke="#000" stroke-width="1.3" fill="none"/>
<path d="M620.46 1222.40V1216.40M615.26 1216.40H625.66" stroke="#000" stroke-width="1.3" fill="none"/>
<path d="M635.50 1222.40V1213.80M630.30 1213.80H640.70" stroke="#000" stroke-width="1.3" fill="none"/>
<path d="M650.55 1229.10V1225.60M645.35 1225.60H655.75" stroke="#000" stroke-width="1.3" fill="none"/>
<path d="M665.59 1226.30V1222.40M660.39 1222.40H670.79" stroke="#000" stroke-width="1.3" fill="none"/>
</g>
<text x="96" y="921.60" font-size="17.6" text-anchor="end" textLength="30.3" lengthAdjust="spacingAndGlyphs">450</text>
<text x="96" y="958.30" font-size="17.6" text-anchor="end" textLength="30.3" lengthAdjust="spacingAndGlyphs">400</text>
<text x="96" y="995.00" font-size="17.6" text-anchor="end" textLength="30.3" lengthAdjust="spacingAndGlyphs">350</text>
<text x="96" y="1031.70" font-size="17.6" text-anchor="end" textLength="30.3" lengthAdjust="spacingAndGlyphs">300</text>
<text x="96" y="1068.40" font-size="17.6" text-anchor="end" textLength="30.3" lengthAdjust="spacingAndGlyphs">250</text>
<text x="96" y="1105.10" font-size="17.6" text-anchor="end" textLength="30.3" lengthAdjust="spacingAndGlyphs">200</text>
<text x="96" y="1141.80" font-size="17.6" text-anchor="end" textLength="30.3" lengthAdjust="spacingAndGlyphs">150</text>
<text x="96" y="1178.50" font-size="17.6" text-anchor="end" textLength="30.3" lengthAdjust="spacingAndGlyphs">100</text>
<text x="96" y="1215.20" font-size="17.6" text-anchor="end" textLength="20.6" lengthAdjust="spacingAndGlyphs">50</text>
<text x="96" y="1251.90" font-size="17.6" text-anchor="end" textLength="10.3" lengthAdjust="spacingAndGlyphs">0</text>
<text x="176.62" y="1273.9" font-size="17.6" text-anchor="middle" textLength="52.5" lengthAdjust="spacingAndGlyphs">3 days</text>
<text x="289.46" y="1273.9" font-size="17.6" text-anchor="middle" textLength="58" lengthAdjust="spacingAndGlyphs">1 week</text>
<text x="402.30" y="1273.9" font-size="17.6" text-anchor="middle" textLength="71" lengthAdjust="spacingAndGlyphs">1 month</text>
<text x="515.14" y="1273.9" font-size="17.6" text-anchor="middle" textLength="78" lengthAdjust="spacingAndGlyphs">3 months</text>
<text x="627.98" y="1273.9" font-size="17.6" text-anchor="middle" textLength="78" lengthAdjust="spacingAndGlyphs">6 months</text>
<g stroke="#000" stroke-width="1.25" stroke-linecap="butt"><line x1="209.30" y1="935.85" x2="209.30" y2="943.55"/><line x1="205.97" y1="937.78" x2="212.63" y2="941.62"/><line x1="212.63" y1="937.78" x2="205.97" y2="941.62"/></g><g stroke="#000" stroke-width="1.25" stroke-linecap="butt"><line x1="219.70" y1="935.85" x2="219.70" y2="943.55"/><line x1="216.37" y1="937.78" x2="223.03" y2="941.62"/><line x1="223.03" y1="937.78" x2="216.37" y2="941.62"/></g>
<g stroke="#000" stroke-width="1.25" stroke-linecap="butt"><line x1="189.80" y1="1093.25" x2="189.80" y2="1100.95"/><line x1="186.47" y1="1095.17" x2="193.13" y2="1099.02"/><line x1="193.13" y1="1095.17" x2="186.47" y2="1099.02"/></g><g stroke="#000" stroke-width="1.25" stroke-linecap="butt"><line x1="200.20" y1="1093.25" x2="200.20" y2="1100.95"/><line x1="196.87" y1="1095.17" x2="203.53" y2="1099.02"/><line x1="203.53" y1="1095.17" x2="196.87" y2="1099.02"/></g>
<g stroke="#000" stroke-width="1.25" stroke-linecap="butt"><line x1="281.90" y1="1201.85" x2="281.90" y2="1209.55"/><line x1="278.57" y1="1203.78" x2="285.23" y2="1207.62"/><line x1="285.23" y1="1203.78" x2="278.57" y2="1207.62"/></g>
<g stroke="#000" stroke-width="1.25" stroke-linecap="butt"><line x1="304.80" y1="1183.45" x2="304.80" y2="1191.15"/><line x1="301.47" y1="1185.38" x2="308.13" y2="1189.22"/><line x1="308.13" y1="1185.38" x2="301.47" y2="1189.22"/></g><g stroke="#000" stroke-width="1.25" stroke-linecap="butt"><line x1="315.20" y1="1183.45" x2="315.20" y2="1191.15"/><line x1="311.87" y1="1185.38" x2="318.53" y2="1189.22"/><line x1="318.53" y1="1185.38" x2="311.87" y2="1189.22"/></g>
<g stroke="#000" stroke-width="1.25" stroke-linecap="butt"><line x1="322.00" y1="1146.45" x2="322.00" y2="1154.15"/><line x1="318.67" y1="1148.38" x2="325.33" y2="1152.22"/><line x1="325.33" y1="1148.38" x2="318.67" y2="1152.22"/></g><g stroke="#000" stroke-width="1.25" stroke-linecap="butt"><line x1="332.40" y1="1146.45" x2="332.40" y2="1154.15"/><line x1="329.07" y1="1148.38" x2="335.73" y2="1152.22"/><line x1="335.73" y1="1148.38" x2="329.07" y2="1152.22"/></g>
<g stroke="#000" stroke-width="1.25" stroke-linecap="butt"><line x1="440.20" y1="1188.95" x2="440.20" y2="1196.65"/><line x1="436.87" y1="1190.88" x2="443.53" y2="1194.72"/><line x1="443.53" y1="1190.88" x2="436.87" y2="1194.72"/></g>
<g stroke="#000" stroke-width="1.25" stroke-linecap="butt"><line x1="620.70" y1="1193.85" x2="620.70" y2="1201.55"/><line x1="617.37" y1="1195.78" x2="624.03" y2="1199.62"/><line x1="624.03" y1="1195.78" x2="617.37" y2="1199.62"/></g>
<rect x="492.9" y="926.7" width="184.7" height="182.7" fill="#fff" stroke="#000" stroke-width="1.7"/>
<rect x="509.1" y="937.25" width="11.3" height="11.3" fill="#FFFFFF" stroke="#000" stroke-width="1.5"/>
<text x="526" y="949.00" font-size="17.6" text-anchor="start" textLength="136.5" lengthAdjust="spacingAndGlyphs">Negative control</text>
<rect x="509.1" y="967.75" width="11.3" height="11.3" fill="#C5E2F4" stroke="#000" stroke-width="1.5"/>
<text x="526" y="979.50" font-size="17.6" text-anchor="start" textLength="93.5" lengthAdjust="spacingAndGlyphs">PEG 0.2 mg</text>
<rect x="509.1" y="998.25" width="11.3" height="11.3" fill="#0A70C2" stroke="#000" stroke-width="1.5"/>
<text x="526" y="1010.00" font-size="17.6" text-anchor="start" textLength="93.5" lengthAdjust="spacingAndGlyphs">PEG 1.0 mg</text>
<rect x="509.1" y="1028.75" width="11.3" height="11.3" fill="#FFFFFF" stroke="#000" stroke-width="1.5"/>
<text x="526" y="1040.50" font-size="17.6" text-anchor="start" textLength="136.5" lengthAdjust="spacingAndGlyphs">Negative control</text>
<rect x="509.1" y="1059.25" width="11.3" height="11.3" fill="#FCE3D6" stroke="#000" stroke-width="1.5"/>
<text x="526" y="1071.00" font-size="17.6" text-anchor="start" textLength="93.5" lengthAdjust="spacingAndGlyphs">A45 0.2 mg</text>
<rect x="509.1" y="1089.45" width="11.3" height="11.3" fill="#FF0000" stroke="#000" stroke-width="1.5"/>
<text x="526" y="1101.20" font-size="17.6" text-anchor="start" textLength="93.5" lengthAdjust="spacingAndGlyphs">A45 1.0 mg</text>
<g transform="translate(43.0 0) rotate(-90)" font-size="17.8" text-anchor="middle">
<text x="-1138.40" y="0" textLength="57.00" lengthAdjust="spacingAndGlyphs">CINC-1</text>
<text x="-1099.25" y="0" textLength="14.00" lengthAdjust="spacingAndGlyphs">in</text>
<text x="-1068.20" y="0" textLength="38.50" lengthAdjust="spacingAndGlyphs">BALF</text>
<text x="-1009.80" y="0" textLength="61.10" lengthAdjust="spacingAndGlyphs">[pg/ml]</text>
</g>
<text x="14.30" y="937.6" font-size="32.5" text-anchor="middle" textLength="8.70" lengthAdjust="spacingAndGlyphs">(</text>
<text x="28.65" y="937.6" font-size="32.5" text-anchor="middle" textLength="14.90" lengthAdjust="spacingAndGlyphs">F</text>
<text x="43.15" y="937.6" font-size="32.5" text-anchor="middle" textLength="8.60" lengthAdjust="spacingAndGlyphs">)</text>
</svg>
</body></html>
